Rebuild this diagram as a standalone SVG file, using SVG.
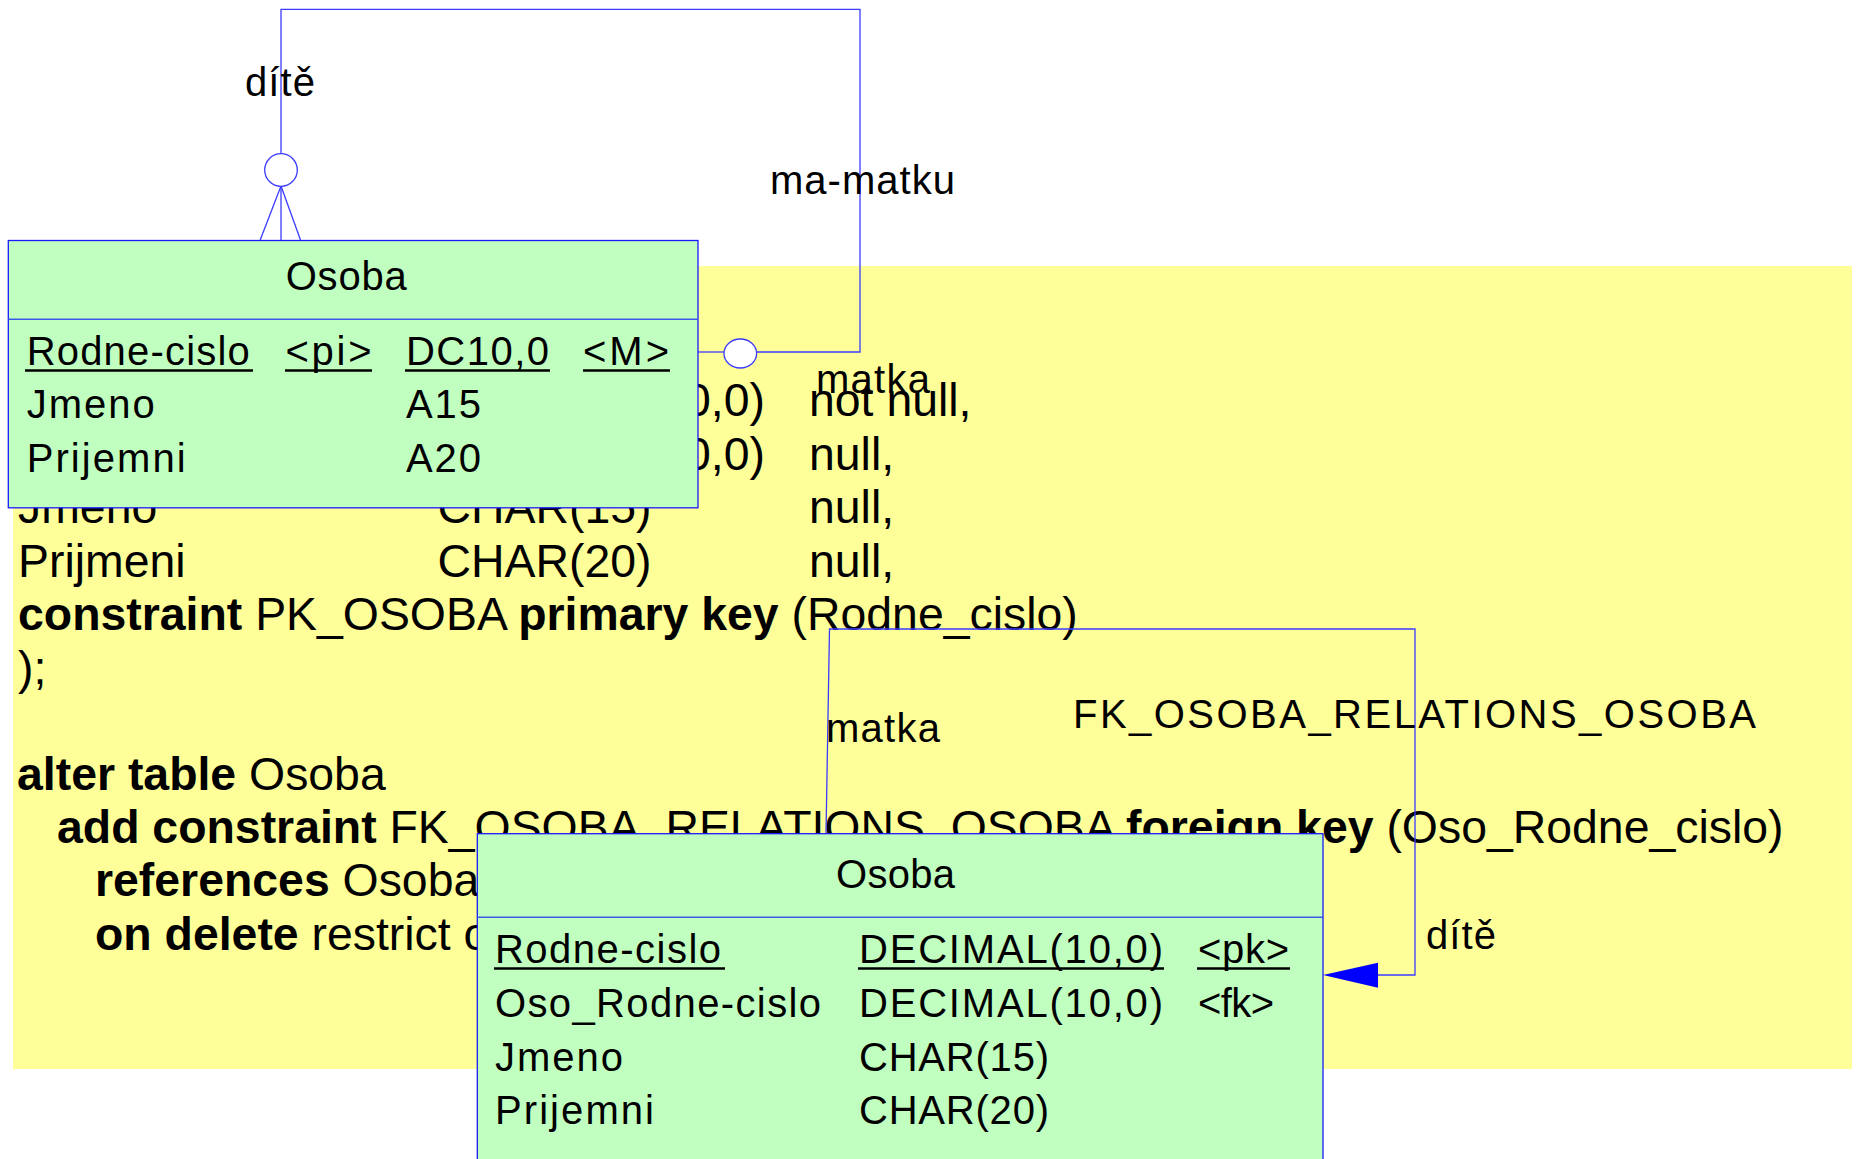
<svg xmlns="http://www.w3.org/2000/svg" width="1856" height="1159" viewBox="0 0 1856 1159">
<defs>
<style>
.sql{font-family:"Liberation Sans",Arial,sans-serif;font-size:46.4px;fill:#000}
.b{font-weight:bold}
.ent{font-family:"Liberation Sans",Arial,sans-serif;font-size:40px;fill:#000}
.lbl{font-family:"Liberation Sans",Arial,sans-serif;font-size:40px;fill:#000}
.box{fill:#C0FFC0;stroke:#1a1aff;stroke-width:1.3}
.div{stroke:#3a5ae8;stroke-width:1.6}
.ul{stroke:#000;stroke-width:2.6}
.con{fill:none;stroke:#3b3bff;stroke-width:1.3}
.circ{fill:#fff;stroke:#3b3bff;stroke-width:1.3}
</style>
</defs>
<rect x="0" y="0" width="1856" height="1159" fill="#fff"/>
<g id="sql-background">
<rect x="13" y="266" width="1839" height="803" fill="#FFFF99"/>
<text class="sql" x="437.5" y="416">DECIMAL(10,0)</text>
<text class="sql" x="809" y="416">not null,</text>
<text class="sql" x="437.5" y="470">DECIMAL(10,0)</text>
<text class="sql" x="809" y="470">null,</text>
<text class="sql" x="18" y="523">Jmeno</text>
<text class="sql" x="437.5" y="523">CHAR(15)</text>
<text class="sql" x="809" y="523">null,</text>
<text class="sql" x="18" y="577">Prijmeni</text>
<text class="sql" x="437.5" y="577">CHAR(20)</text>
<text class="sql" x="809" y="577">null,</text>
<text class="sql" x="18" y="630"><tspan class="b">constraint</tspan> PK_OSOBA <tspan class="b">primary key</tspan> (Rodne_cislo)</text>
<text class="sql" x="18" y="684">);</text>
<text class="sql" x="17" y="790"><tspan class="b">alter table</tspan> Osoba</text>
<text class="sql" x="57" y="843"><tspan class="b">add constraint</tspan> FK_OSOBA_RELATIONS_OSOBA <tspan class="b">foreign key</tspan> (Oso_Rodne_cislo)</text>
<text class="sql" x="95" y="896"><tspan class="b">references</tspan> Osoba</text>
<text class="sql" x="95" y="950"><tspan class="b">on delete</tspan> restrict on</text>
</g>
<g id="connectors">
<polyline class="con" points="281,154 281,9.3 860,9.3 860,352 756.5,352"/>
<line class="con" x1="724" y1="352" x2="698" y2="352"/>
<line class="con" x1="281" y1="186" x2="281" y2="240"/>
<line class="con" x1="281" y1="186" x2="260.2" y2="240"/>
<line class="con" x1="281" y1="186" x2="300.5" y2="240"/>
<ellipse class="circ" cx="281" cy="170" rx="16.3" ry="16.3"/>
<ellipse class="circ" cx="740.3" cy="353.5" rx="16.3" ry="14.5"/>
<polyline class="con" points="826,834 829.5,629 1415,629 1415,975 1378,975"/>
<polygon points="1323,975 1378,962.7 1378,987.7" fill="#0000FF"/>
</g>
<g id="entity-osoba-top">
<rect class="box" x="8.3" y="240.5" width="689.7" height="267.3"/>
<line class="div" x1="8.3" y1="319.3" x2="698" y2="319.3"/>
<text class="ent" x="285.7" y="290" textLength="121" lengthAdjust="spacing">Osoba</text>
<text class="ent" x="26.7" y="365" textLength="223" lengthAdjust="spacing">Rodne-cislo</text>
<line class="ul" x1="25" y1="370.5" x2="253" y2="370.5"/>
<text class="ent" x="285.5" y="365" textLength="86" lengthAdjust="spacing">&lt;pi&gt;</text>
<line class="ul" x1="285" y1="370.5" x2="372" y2="370.5"/>
<text class="ent" x="406" y="365" textLength="143" lengthAdjust="spacing">DC10,0</text>
<line class="ul" x1="405" y1="370.5" x2="550" y2="370.5"/>
<text class="ent" x="583" y="365" textLength="86" lengthAdjust="spacing">&lt;M&gt;</text>
<line class="ul" x1="583" y1="370.5" x2="670" y2="370.5"/>
<text class="ent" x="26.7" y="418" textLength="128" lengthAdjust="spacing">Jmeno</text>
<text class="ent" x="406" y="418" textLength="75" lengthAdjust="spacing">A15</text>
<text class="ent" x="26.7" y="472" textLength="159" lengthAdjust="spacing">Prijemni</text>
<text class="ent" x="406" y="472" textLength="75" lengthAdjust="spacing">A20</text>
</g>
<g id="entity-osoba-bottom">
<rect class="box" x="477.3" y="833.7" width="845.7" height="400"/>
<line class="div" x1="477.3" y1="917.3" x2="1323" y2="917.3"/>
<text class="ent" x="836" y="888" textLength="119" lengthAdjust="spacing">Osoba</text>
<text class="ent" x="495" y="962.7" textLength="226" lengthAdjust="spacing">Rodne-cislo</text>
<line class="ul" x1="494" y1="968.5" x2="725" y2="968.5"/>
<text class="ent" x="859" y="962.7" textLength="304" lengthAdjust="spacing">DECIMAL(10,0)</text>
<line class="ul" x1="858" y1="968.5" x2="1164" y2="968.5"/>
<text class="ent" x="1198" y="962.7" textLength="91" lengthAdjust="spacing">&lt;pk&gt;</text>
<line class="ul" x1="1197" y1="968.5" x2="1290" y2="968.5"/>
<text class="ent" x="495" y="1017.3" textLength="326" lengthAdjust="spacing">Oso_Rodne-cislo</text>
<text class="ent" x="859" y="1017.3" textLength="304" lengthAdjust="spacing">DECIMAL(10,0)</text>
<text class="ent" x="1198" y="1017.3" textLength="76" lengthAdjust="spacing">&lt;fk&gt;</text>
<text class="ent" x="495" y="1070.7" textLength="128" lengthAdjust="spacing">Jmeno</text>
<text class="ent" x="859" y="1070.7" textLength="190" lengthAdjust="spacing">CHAR(15)</text>
<text class="ent" x="495" y="1124" textLength="159" lengthAdjust="spacing">Prijemni</text>
<text class="ent" x="859" y="1124" textLength="190" lengthAdjust="spacing">CHAR(20)</text>
</g>
<g id="labels">
<text class="lbl" x="245" y="96" textLength="70" lengthAdjust="spacing">dítě</text>
<text class="lbl" x="770" y="194" textLength="185" lengthAdjust="spacing">ma-matku</text>
<text class="lbl" x="816" y="393" textLength="114" lengthAdjust="spacing">matka</text>
<text class="lbl" x="826" y="742" textLength="114" lengthAdjust="spacing">matka</text>
<text class="lbl" x="1073" y="728" textLength="683" lengthAdjust="spacing">FK_OSOBA_RELATIONS_OSOBA</text>
<text class="lbl" x="1426" y="949" textLength="70" lengthAdjust="spacing">dítě</text>
</g>
</svg>
